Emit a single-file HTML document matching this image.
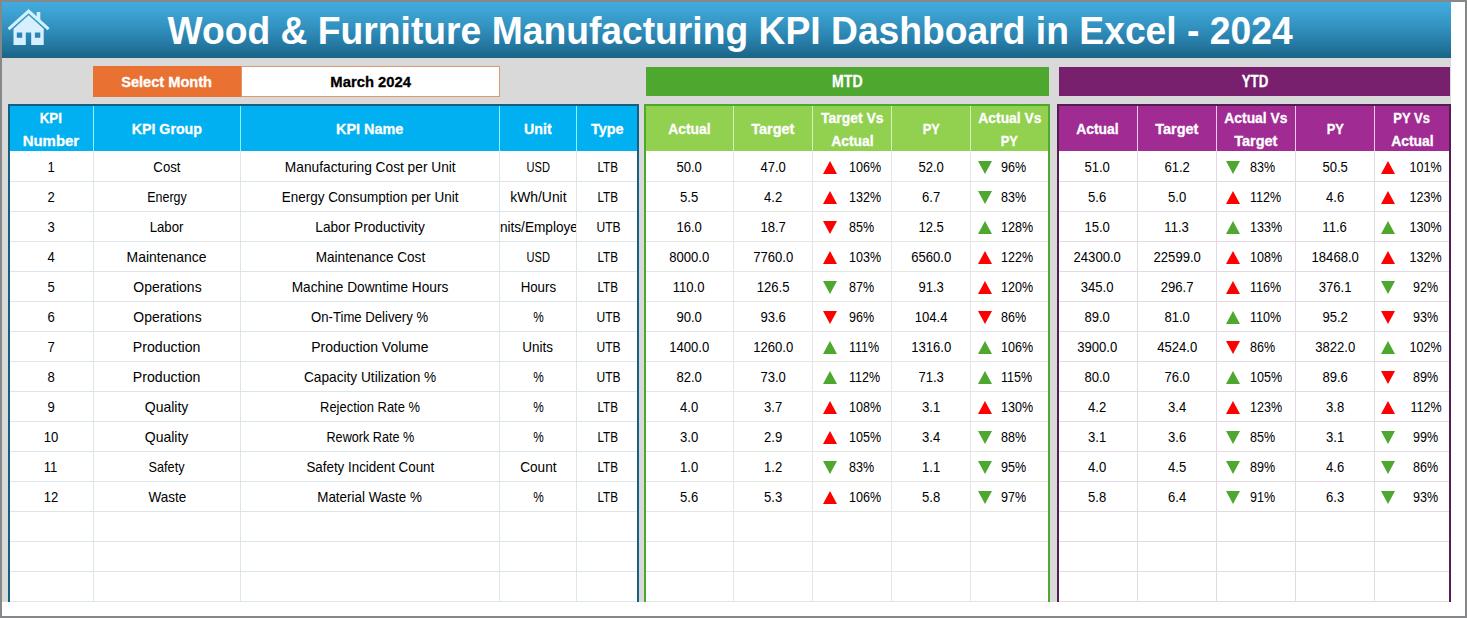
<!DOCTYPE html>
<html><head><meta charset="utf-8"><title>Wood &amp; Furniture Manufacturing KPI Dashboard</title>
<style>
html,body{margin:0;padding:0}
body{width:1467px;height:618px;position:relative;overflow:hidden;background:#fff;font-family:"Liberation Sans",sans-serif;color:#000}
div{position:absolute;box-sizing:border-box}
.frame{left:0;top:0;width:1467px;height:618px;border:2px solid #858789;border-top-width:2px}
.sheet{left:2px;top:2px;width:1449px;height:600px;background:#d9d9d9}
.banner{left:2px;top:2px;width:1449px;height:55.5px;background:linear-gradient(#43abdf 0%,#3ca3d2 18%,#3393c1 42%,#2a82ae 64%,#21729a 84%,#1b668a 96%,#1f6482 100%)}
.title{left:0;top:3px;width:1467px;height:56px;line-height:56px;text-align:center;color:#fff;font-weight:bold;font-size:39px;white-space:nowrap}
.s{display:inline-block;white-space:nowrap}
.c{text-align:center;white-space:nowrap;font-size:14.5px;line-height:30px;height:30px;overflow:hidden}
.h{text-align:center;white-space:nowrap;font-size:15.3px;-webkit-text-stroke:0.3px;font-weight:bold;color:#fff;line-height:22px}
.vl{width:1px}
.hl{height:1px}
.tri{width:0;height:0;border-left:7px solid transparent;border-right:7px solid transparent}
.ur{border-bottom:13px solid #ff0000}
.ug{border-bottom:13px solid #4ea72e}
.dr{border-top:13px solid #ff0000}
.dg{border-top:13px solid #4ea72e}
</style></head><body>
<div class="sheet"></div>
<div class="banner"></div>
<svg style="position:absolute;left:6px;top:6px" width="48" height="44" viewBox="6 6 48 44"><g fill="#d6f0ff">
<path d="M28.6 9 L49.6 28 L47.6 30.2 L28.6 13.2 L9.6 30.2 L7.6 28 Z"/>
<rect x="36.7" y="12" width="3.6" height="8"/>
<path d="M28.6 15.2 L43.7 28.8 L43.7 45 L31.2 45 L31.2 32.4 L25.8 32.4 L25.8 45 L13.5 45 L13.5 28.8 Z M16.8 32.4 h5.4 v5.4 h-5.4 Z M34.9 32.4 h5.4 v5.4 h-5.4 Z" fill-rule="evenodd"/>
</g></svg>
<div class="title"><span class="s" style="transform:scaleX(0.955);position:relative;left:-3px">Wood &amp; Furniture Manufacturing KPI Dashboard in Excel - 2024</span></div>
<div style="left:93px;top:66px;width:148px;height:30.5px;background:#e97132"></div>
<div class="h" style="left:93px;top:66px;width:148px;height:31px;line-height:31px"><span class="s" style="transform:scaleX(0.955)">Select Month</span></div>
<div style="left:241px;top:66px;width:259px;height:30.5px;background:#fff;border:1px solid #dd9a6c"></div>
<div class="h" style="left:241px;top:66px;width:259px;height:31px;line-height:31px;color:#000"><span class="s" style="transform:scaleX(0.968)">March 2024</span></div>
<div style="left:646px;top:67px;width:403px;height:28.6px;background:#4ea72e"></div>
<div class="h" style="left:646px;top:66.5px;width:403px;height:29px;line-height:29px;font-size:16px"><span class="s" style="transform:scaleX(0.882)">MTD</span></div>
<div style="left:1059px;top:67px;width:391px;height:28.6px;background:#78206e"></div>
<div class="h" style="left:1059px;top:66.5px;width:391px;height:29px;line-height:29px;font-size:16px"><span class="s" style="transform:scaleX(0.828)">YTD</span></div>
<div style="left:8px;top:104px;width:631px;height:498px;background:#fff"></div>
<div style="left:8px;top:104px;width:631px;height:47px;background:#00b0f0"></div>
<div class="hl" style="left:10px;top:181px;width:627px;background:#dae6ea"></div>
<div class="hl" style="left:10px;top:211px;width:627px;background:#dae6ea"></div>
<div class="hl" style="left:10px;top:241px;width:627px;background:#dae6ea"></div>
<div class="hl" style="left:10px;top:271px;width:627px;background:#dae6ea"></div>
<div class="hl" style="left:10px;top:301px;width:627px;background:#dae6ea"></div>
<div class="hl" style="left:10px;top:331px;width:627px;background:#dae6ea"></div>
<div class="hl" style="left:10px;top:361px;width:627px;background:#dae6ea"></div>
<div class="hl" style="left:10px;top:391px;width:627px;background:#dae6ea"></div>
<div class="hl" style="left:10px;top:421px;width:627px;background:#dae6ea"></div>
<div class="hl" style="left:10px;top:451px;width:627px;background:#dae6ea"></div>
<div class="hl" style="left:10px;top:481px;width:627px;background:#dae6ea"></div>
<div class="hl" style="left:10px;top:511px;width:627px;background:#dae6ea"></div>
<div class="hl" style="left:10px;top:541px;width:627px;background:#dae6ea"></div>
<div class="hl" style="left:10px;top:571px;width:627px;background:#dae6ea"></div>
<div class="hl" style="left:10px;top:601px;width:627px;background:#dae6ea"></div>
<div class="vl" style="left:93px;top:151px;height:451px;background:#dae6ea"></div>
<div class="vl" style="left:93px;top:106px;height:45px;background:#8ef4ff"></div>
<div class="vl" style="left:240px;top:151px;height:451px;background:#dae6ea"></div>
<div class="vl" style="left:240px;top:106px;height:45px;background:#8ef4ff"></div>
<div class="vl" style="left:499px;top:151px;height:451px;background:#dae6ea"></div>
<div class="vl" style="left:499px;top:106px;height:45px;background:#8ef4ff"></div>
<div class="vl" style="left:576px;top:151px;height:451px;background:#dae6ea"></div>
<div class="vl" style="left:576px;top:106px;height:45px;background:#8ef4ff"></div>
<div style="left:8px;top:104px;width:631px;height:1.7px;background:#156082"></div>
<div style="left:8px;top:104px;width:2px;height:498px;background:#156082"></div>
<div style="left:637px;top:104px;width:2px;height:498px;background:#156082"></div>
<div class="h" style="left:9px;top:106.8px;width:84px;height:46px;line-height:22.8px"><span class="s" style="transform:scaleX(0.87)">KPI</span><br><span class="s" style="transform:scaleX(0.977)">Number</span></div>
<div class="h" style="left:94px;top:105.5px;width:146px;height:45px;line-height:45px"><span class="s" style="transform:scaleX(0.929)">KPI Group</span></div>
<div class="h" style="left:241px;top:105.5px;width:258px;height:45px;line-height:45px"><span class="s" style="transform:scaleX(0.941)">KPI Name</span></div>
<div class="h" style="left:500px;top:105.5px;width:76px;height:45px;line-height:45px"><span class="s" style="transform:scaleX(0.931)">Unit</span></div>
<div class="h" style="left:577px;top:105.5px;width:60px;height:45px;line-height:45px"><span class="s" style="transform:scaleX(0.945)">Type</span></div>
<div style="left:644px;top:104px;width:406px;height:498px;background:#fff"></div>
<div style="left:644px;top:104px;width:406px;height:47px;background:#92d050"></div>
<div class="hl" style="left:646px;top:181px;width:402px;background:#e2e8df"></div>
<div class="hl" style="left:646px;top:211px;width:402px;background:#e2e8df"></div>
<div class="hl" style="left:646px;top:241px;width:402px;background:#e2e8df"></div>
<div class="hl" style="left:646px;top:271px;width:402px;background:#e2e8df"></div>
<div class="hl" style="left:646px;top:301px;width:402px;background:#e2e8df"></div>
<div class="hl" style="left:646px;top:331px;width:402px;background:#e2e8df"></div>
<div class="hl" style="left:646px;top:361px;width:402px;background:#e2e8df"></div>
<div class="hl" style="left:646px;top:391px;width:402px;background:#e2e8df"></div>
<div class="hl" style="left:646px;top:421px;width:402px;background:#e2e8df"></div>
<div class="hl" style="left:646px;top:451px;width:402px;background:#e2e8df"></div>
<div class="hl" style="left:646px;top:481px;width:402px;background:#e2e8df"></div>
<div class="hl" style="left:646px;top:511px;width:402px;background:#e2e8df"></div>
<div class="hl" style="left:646px;top:541px;width:402px;background:#e2e8df"></div>
<div class="hl" style="left:646px;top:571px;width:402px;background:#e2e8df"></div>
<div class="hl" style="left:646px;top:601px;width:402px;background:#e2e8df"></div>
<div class="vl" style="left:733px;top:151px;height:451px;background:#e2e8df"></div>
<div class="vl" style="left:733px;top:106px;height:45px;background:#d9f2b8"></div>
<div class="vl" style="left:812px;top:151px;height:451px;background:#e2e8df"></div>
<div class="vl" style="left:812px;top:106px;height:45px;background:#d9f2b8"></div>
<div class="vl" style="left:891px;top:151px;height:451px;background:#e2e8df"></div>
<div class="vl" style="left:891px;top:106px;height:45px;background:#d9f2b8"></div>
<div class="vl" style="left:970px;top:151px;height:451px;background:#e2e8df"></div>
<div class="vl" style="left:970px;top:106px;height:45px;background:#d9f2b8"></div>
<div style="left:644px;top:104px;width:406px;height:1.7px;background:#4ea72e"></div>
<div style="left:644px;top:104px;width:2px;height:498px;background:#4ea72e"></div>
<div style="left:1048px;top:104px;width:2px;height:498px;background:#4ea72e"></div>
<div class="h" style="left:645px;top:105.5px;width:88px;height:45px;line-height:45px"><span class="s" style="transform:scaleX(0.907)">Actual</span></div>
<div class="h" style="left:734px;top:105.5px;width:78px;height:45px;line-height:45px"><span class="s" style="transform:scaleX(0.949)">Target</span></div>
<div class="h" style="left:813px;top:106.8px;width:78px;height:46px;line-height:22.8px"><span class="s" style="transform:scaleX(0.912)">Target Vs</span><br><span class="s" style="transform:scaleX(0.907)">Actual</span></div>
<div class="h" style="left:892px;top:105.5px;width:78px;height:45px;line-height:45px"><span class="s" style="transform:scaleX(0.84)">PY</span></div>
<div class="h" style="left:971px;top:106.8px;width:77px;height:46px;line-height:22.8px"><span class="s" style="transform:scaleX(0.904)">Actual Vs</span><br><span class="s" style="transform:scaleX(0.84)">PY</span></div>
<div style="left:1057px;top:104px;width:394px;height:498px;background:#fff"></div>
<div style="left:1057px;top:104px;width:394px;height:47px;background:#a02b93"></div>
<div class="hl" style="left:1059px;top:181px;width:390px;background:#e3dae5"></div>
<div class="hl" style="left:1059px;top:211px;width:390px;background:#e3dae5"></div>
<div class="hl" style="left:1059px;top:241px;width:390px;background:#e3dae5"></div>
<div class="hl" style="left:1059px;top:271px;width:390px;background:#e3dae5"></div>
<div class="hl" style="left:1059px;top:301px;width:390px;background:#e3dae5"></div>
<div class="hl" style="left:1059px;top:331px;width:390px;background:#e3dae5"></div>
<div class="hl" style="left:1059px;top:361px;width:390px;background:#e3dae5"></div>
<div class="hl" style="left:1059px;top:391px;width:390px;background:#e3dae5"></div>
<div class="hl" style="left:1059px;top:421px;width:390px;background:#e3dae5"></div>
<div class="hl" style="left:1059px;top:451px;width:390px;background:#e3dae5"></div>
<div class="hl" style="left:1059px;top:481px;width:390px;background:#e3dae5"></div>
<div class="hl" style="left:1059px;top:511px;width:390px;background:#e3dae5"></div>
<div class="hl" style="left:1059px;top:541px;width:390px;background:#e3dae5"></div>
<div class="hl" style="left:1059px;top:571px;width:390px;background:#e3dae5"></div>
<div class="hl" style="left:1059px;top:601px;width:390px;background:#e3dae5"></div>
<div class="vl" style="left:1137px;top:151px;height:451px;background:#e3dae5"></div>
<div class="vl" style="left:1137px;top:106px;height:45px;background:#f0c8ea"></div>
<div class="vl" style="left:1216px;top:151px;height:451px;background:#e3dae5"></div>
<div class="vl" style="left:1216px;top:106px;height:45px;background:#f0c8ea"></div>
<div class="vl" style="left:1295px;top:151px;height:451px;background:#e3dae5"></div>
<div class="vl" style="left:1295px;top:106px;height:45px;background:#f0c8ea"></div>
<div class="vl" style="left:1374px;top:151px;height:451px;background:#e3dae5"></div>
<div class="vl" style="left:1374px;top:106px;height:45px;background:#f0c8ea"></div>
<div style="left:1057px;top:104px;width:394px;height:1.7px;background:#561c54"></div>
<div style="left:1057px;top:104px;width:2px;height:498px;background:#561c54"></div>
<div style="left:1449px;top:104px;width:2px;height:498px;background:#561c54"></div>
<div class="h" style="left:1058px;top:105.5px;width:79px;height:45px;line-height:45px"><span class="s" style="transform:scaleX(0.907)">Actual</span></div>
<div class="h" style="left:1138px;top:105.5px;width:78px;height:45px;line-height:45px"><span class="s" style="transform:scaleX(0.949)">Target</span></div>
<div class="h" style="left:1217px;top:106.8px;width:78px;height:46px;line-height:22.8px"><span class="s" style="transform:scaleX(0.904)">Actual Vs</span><br><span class="s" style="transform:scaleX(0.949)">Target</span></div>
<div class="h" style="left:1296px;top:105.5px;width:78px;height:45px;line-height:45px"><span class="s" style="transform:scaleX(0.84)">PY</span></div>
<div class="h" style="left:1375px;top:106.8px;width:74px;height:46px;line-height:22.8px"><span class="s" style="transform:scaleX(0.851)">PY Vs</span><br><span class="s" style="transform:scaleX(0.907)">Actual</span></div>
<div class="c" style="left:9px;top:152px;width:84px"><span class="s" style="transform:scaleX(0.902)">1</span></div>
<div class="c" style="left:94px;top:152px;width:146px"><span class="s" style="transform:scaleX(0.909)">Cost</span></div>
<div class="c" style="left:241px;top:152px;width:258px"><span class="s" style="transform:scaleX(0.946)">Manufacturing Cost per Unit</span></div>
<div class="c" style="left:500px;top:152px;width:76px"><span class="s" style="transform:scaleX(0.765)">USD</span></div>
<div class="c" style="left:577px;top:152px;width:62px"><span class="s" style="transform:scaleX(0.804)">LTB</span></div>
<div class="c" style="left:645px;top:152px;width:88px"><span class="s" style="transform:scaleX(0.902)">50.0</span></div>
<div class="c" style="left:734px;top:152px;width:78px"><span class="s" style="transform:scaleX(0.902)">47.0</span></div>
<div class="tri ur" style="left:823px;top:160.6px"></div><div class="c" style="left:848.8px;top:152px;width:60px;text-align:left"><span class="s" style="transform:scaleX(0.865);transform-origin:0 50%">106%</span></div>
<div class="c" style="left:892px;top:152px;width:78px"><span class="s" style="transform:scaleX(0.902)">52.0</span></div>
<div class="tri dg" style="left:978px;top:160.6px"></div><div class="c" style="left:1001.0px;top:152px;width:60px;text-align:left"><span class="s" style="transform:scaleX(0.865);transform-origin:0 50%">96%</span></div>
<div class="c" style="left:1058px;top:152px;width:79px"><span class="s" style="transform:scaleX(0.902)">51.0</span></div>
<div class="c" style="left:1138px;top:152px;width:78px"><span class="s" style="transform:scaleX(0.902)">61.2</span></div>
<div class="tri dg" style="left:1226px;top:160.6px"></div><div class="c" style="left:1249.8px;top:152px;width:60px;text-align:left"><span class="s" style="transform:scaleX(0.865);transform-origin:0 50%">83%</span></div>
<div class="c" style="left:1296px;top:152px;width:78px"><span class="s" style="transform:scaleX(0.902)">50.5</span></div>
<div class="tri ur" style="left:1381px;top:160.6px"></div><div class="c" style="left:1385.6px;top:152px;width:80px"><span class="s" style="transform:scaleX(0.865)">101%</span></div>
<div class="c" style="left:9px;top:182px;width:84px"><span class="s" style="transform:scaleX(0.902)">2</span></div>
<div class="c" style="left:94px;top:182px;width:146px"><span class="s" style="transform:scaleX(0.857)">Energy</span></div>
<div class="c" style="left:241px;top:182px;width:258px"><span class="s" style="transform:scaleX(0.93)">Energy Consumption per Unit</span></div>
<div class="c" style="left:500px;top:182px;width:76px"><span class="s" style="transform:scaleX(0.957)">kWh/Unit</span></div>
<div class="c" style="left:577px;top:182px;width:62px"><span class="s" style="transform:scaleX(0.804)">LTB</span></div>
<div class="c" style="left:645px;top:182px;width:88px"><span class="s" style="transform:scaleX(0.902)">5.5</span></div>
<div class="c" style="left:734px;top:182px;width:78px"><span class="s" style="transform:scaleX(0.902)">4.2</span></div>
<div class="tri ur" style="left:823px;top:190.6px"></div><div class="c" style="left:848.8px;top:182px;width:60px;text-align:left"><span class="s" style="transform:scaleX(0.865);transform-origin:0 50%">132%</span></div>
<div class="c" style="left:892px;top:182px;width:78px"><span class="s" style="transform:scaleX(0.902)">6.7</span></div>
<div class="tri dg" style="left:978px;top:190.6px"></div><div class="c" style="left:1001.0px;top:182px;width:60px;text-align:left"><span class="s" style="transform:scaleX(0.865);transform-origin:0 50%">83%</span></div>
<div class="c" style="left:1058px;top:182px;width:79px"><span class="s" style="transform:scaleX(0.902)">5.6</span></div>
<div class="c" style="left:1138px;top:182px;width:78px"><span class="s" style="transform:scaleX(0.902)">5.0</span></div>
<div class="tri ur" style="left:1226px;top:190.6px"></div><div class="c" style="left:1249.8px;top:182px;width:60px;text-align:left"><span class="s" style="transform:scaleX(0.865);transform-origin:0 50%">112%</span></div>
<div class="c" style="left:1296px;top:182px;width:78px"><span class="s" style="transform:scaleX(0.902)">4.6</span></div>
<div class="tri ur" style="left:1381px;top:190.6px"></div><div class="c" style="left:1385.6px;top:182px;width:80px"><span class="s" style="transform:scaleX(0.865)">123%</span></div>
<div class="c" style="left:9px;top:212px;width:84px"><span class="s" style="transform:scaleX(0.902)">3</span></div>
<div class="c" style="left:94px;top:212px;width:146px"><span class="s" style="transform:scaleX(0.911)">Labor</span></div>
<div class="c" style="left:241px;top:212px;width:258px"><span class="s" style="transform:scaleX(0.943)">Labor Productivity</span></div>
<div style="left:500px;top:212px;width:76px;height:30px;overflow:hidden"><div class="c" style="left:-50px;top:0;width:176px"><span class="s" style="transform:scaleX(0.94)">Units/Employee</span></div></div>
<div class="c" style="left:577px;top:212px;width:62px"><span class="s" style="transform:scaleX(0.834)">UTB</span></div>
<div class="c" style="left:645px;top:212px;width:88px"><span class="s" style="transform:scaleX(0.902)">16.0</span></div>
<div class="c" style="left:734px;top:212px;width:78px"><span class="s" style="transform:scaleX(0.902)">18.7</span></div>
<div class="tri dr" style="left:823px;top:220.6px"></div><div class="c" style="left:848.8px;top:212px;width:60px;text-align:left"><span class="s" style="transform:scaleX(0.865);transform-origin:0 50%">85%</span></div>
<div class="c" style="left:892px;top:212px;width:78px"><span class="s" style="transform:scaleX(0.902)">12.5</span></div>
<div class="tri ug" style="left:978px;top:220.6px"></div><div class="c" style="left:1001.0px;top:212px;width:60px;text-align:left"><span class="s" style="transform:scaleX(0.865);transform-origin:0 50%">128%</span></div>
<div class="c" style="left:1058px;top:212px;width:79px"><span class="s" style="transform:scaleX(0.902)">15.0</span></div>
<div class="c" style="left:1138px;top:212px;width:78px"><span class="s" style="transform:scaleX(0.902)">11.3</span></div>
<div class="tri ug" style="left:1226px;top:220.6px"></div><div class="c" style="left:1249.8px;top:212px;width:60px;text-align:left"><span class="s" style="transform:scaleX(0.865);transform-origin:0 50%">133%</span></div>
<div class="c" style="left:1296px;top:212px;width:78px"><span class="s" style="transform:scaleX(0.902)">11.6</span></div>
<div class="tri ug" style="left:1381px;top:220.6px"></div><div class="c" style="left:1385.6px;top:212px;width:80px"><span class="s" style="transform:scaleX(0.865)">130%</span></div>
<div class="c" style="left:9px;top:242px;width:84px"><span class="s" style="transform:scaleX(0.902)">4</span></div>
<div class="c" style="left:94px;top:242px;width:146px"><span class="s" style="transform:scaleX(0.963)">Maintenance</span></div>
<div class="c" style="left:241px;top:242px;width:258px"><span class="s" style="transform:scaleX(0.937)">Maintenance Cost</span></div>
<div class="c" style="left:500px;top:242px;width:76px"><span class="s" style="transform:scaleX(0.765)">USD</span></div>
<div class="c" style="left:577px;top:242px;width:62px"><span class="s" style="transform:scaleX(0.804)">LTB</span></div>
<div class="c" style="left:645px;top:242px;width:88px"><span class="s" style="transform:scaleX(0.902)">8000.0</span></div>
<div class="c" style="left:734px;top:242px;width:78px"><span class="s" style="transform:scaleX(0.902)">7760.0</span></div>
<div class="tri ur" style="left:823px;top:250.6px"></div><div class="c" style="left:848.8px;top:242px;width:60px;text-align:left"><span class="s" style="transform:scaleX(0.865);transform-origin:0 50%">103%</span></div>
<div class="c" style="left:892px;top:242px;width:78px"><span class="s" style="transform:scaleX(0.902)">6560.0</span></div>
<div class="tri ur" style="left:978px;top:250.6px"></div><div class="c" style="left:1001.0px;top:242px;width:60px;text-align:left"><span class="s" style="transform:scaleX(0.865);transform-origin:0 50%">122%</span></div>
<div class="c" style="left:1058px;top:242px;width:79px"><span class="s" style="transform:scaleX(0.902)">24300.0</span></div>
<div class="c" style="left:1138px;top:242px;width:78px"><span class="s" style="transform:scaleX(0.902)">22599.0</span></div>
<div class="tri ur" style="left:1226px;top:250.6px"></div><div class="c" style="left:1249.8px;top:242px;width:60px;text-align:left"><span class="s" style="transform:scaleX(0.865);transform-origin:0 50%">108%</span></div>
<div class="c" style="left:1296px;top:242px;width:78px"><span class="s" style="transform:scaleX(0.902)">18468.0</span></div>
<div class="tri ur" style="left:1381px;top:250.6px"></div><div class="c" style="left:1385.6px;top:242px;width:80px"><span class="s" style="transform:scaleX(0.865)">132%</span></div>
<div class="c" style="left:9px;top:272px;width:84px"><span class="s" style="transform:scaleX(0.902)">5</span></div>
<div class="c" style="left:94px;top:272px;width:146px"><span class="s" style="transform:scaleX(0.963)">Operations</span></div>
<div class="c" style="left:241px;top:272px;width:258px"><span class="s" style="transform:scaleX(0.943)">Machine Downtime Hours</span></div>
<div class="c" style="left:500px;top:272px;width:76px"><span class="s" style="transform:scaleX(0.915)">Hours</span></div>
<div class="c" style="left:577px;top:272px;width:62px"><span class="s" style="transform:scaleX(0.804)">LTB</span></div>
<div class="c" style="left:645px;top:272px;width:88px"><span class="s" style="transform:scaleX(0.902)">110.0</span></div>
<div class="c" style="left:734px;top:272px;width:78px"><span class="s" style="transform:scaleX(0.902)">126.5</span></div>
<div class="tri dg" style="left:823px;top:280.6px"></div><div class="c" style="left:848.8px;top:272px;width:60px;text-align:left"><span class="s" style="transform:scaleX(0.865);transform-origin:0 50%">87%</span></div>
<div class="c" style="left:892px;top:272px;width:78px"><span class="s" style="transform:scaleX(0.902)">91.3</span></div>
<div class="tri ur" style="left:978px;top:280.6px"></div><div class="c" style="left:1001.0px;top:272px;width:60px;text-align:left"><span class="s" style="transform:scaleX(0.865);transform-origin:0 50%">120%</span></div>
<div class="c" style="left:1058px;top:272px;width:79px"><span class="s" style="transform:scaleX(0.902)">345.0</span></div>
<div class="c" style="left:1138px;top:272px;width:78px"><span class="s" style="transform:scaleX(0.902)">296.7</span></div>
<div class="tri ur" style="left:1226px;top:280.6px"></div><div class="c" style="left:1249.8px;top:272px;width:60px;text-align:left"><span class="s" style="transform:scaleX(0.865);transform-origin:0 50%">116%</span></div>
<div class="c" style="left:1296px;top:272px;width:78px"><span class="s" style="transform:scaleX(0.902)">376.1</span></div>
<div class="tri dg" style="left:1381px;top:280.6px"></div><div class="c" style="left:1385.6px;top:272px;width:80px"><span class="s" style="transform:scaleX(0.865)">92%</span></div>
<div class="c" style="left:9px;top:302px;width:84px"><span class="s" style="transform:scaleX(0.902)">6</span></div>
<div class="c" style="left:94px;top:302px;width:146px"><span class="s" style="transform:scaleX(0.963)">Operations</span></div>
<div class="c" style="left:241px;top:302px;width:258px"><span class="s" style="transform:scaleX(0.906)">On-Time Delivery %</span></div>
<div class="c" style="left:500px;top:302px;width:76px"><span class="s" style="transform:scaleX(0.814)">%</span></div>
<div class="c" style="left:577px;top:302px;width:62px"><span class="s" style="transform:scaleX(0.834)">UTB</span></div>
<div class="c" style="left:645px;top:302px;width:88px"><span class="s" style="transform:scaleX(0.902)">90.0</span></div>
<div class="c" style="left:734px;top:302px;width:78px"><span class="s" style="transform:scaleX(0.902)">93.6</span></div>
<div class="tri dr" style="left:823px;top:310.6px"></div><div class="c" style="left:848.8px;top:302px;width:60px;text-align:left"><span class="s" style="transform:scaleX(0.865);transform-origin:0 50%">96%</span></div>
<div class="c" style="left:892px;top:302px;width:78px"><span class="s" style="transform:scaleX(0.902)">104.4</span></div>
<div class="tri dr" style="left:978px;top:310.6px"></div><div class="c" style="left:1001.0px;top:302px;width:60px;text-align:left"><span class="s" style="transform:scaleX(0.865);transform-origin:0 50%">86%</span></div>
<div class="c" style="left:1058px;top:302px;width:79px"><span class="s" style="transform:scaleX(0.902)">89.0</span></div>
<div class="c" style="left:1138px;top:302px;width:78px"><span class="s" style="transform:scaleX(0.902)">81.0</span></div>
<div class="tri ug" style="left:1226px;top:310.6px"></div><div class="c" style="left:1249.8px;top:302px;width:60px;text-align:left"><span class="s" style="transform:scaleX(0.865);transform-origin:0 50%">110%</span></div>
<div class="c" style="left:1296px;top:302px;width:78px"><span class="s" style="transform:scaleX(0.902)">95.2</span></div>
<div class="tri dr" style="left:1381px;top:310.6px"></div><div class="c" style="left:1385.6px;top:302px;width:80px"><span class="s" style="transform:scaleX(0.865)">93%</span></div>
<div class="c" style="left:9px;top:332px;width:84px"><span class="s" style="transform:scaleX(0.902)">7</span></div>
<div class="c" style="left:94px;top:332px;width:146px"><span class="s" style="transform:scaleX(0.975)">Production</span></div>
<div class="c" style="left:241px;top:332px;width:258px"><span class="s" style="transform:scaleX(0.962)">Production Volume</span></div>
<div class="c" style="left:500px;top:332px;width:76px"><span class="s" style="transform:scaleX(0.93)">Units</span></div>
<div class="c" style="left:577px;top:332px;width:62px"><span class="s" style="transform:scaleX(0.834)">UTB</span></div>
<div class="c" style="left:645px;top:332px;width:88px"><span class="s" style="transform:scaleX(0.902)">1400.0</span></div>
<div class="c" style="left:734px;top:332px;width:78px"><span class="s" style="transform:scaleX(0.902)">1260.0</span></div>
<div class="tri ug" style="left:823px;top:340.6px"></div><div class="c" style="left:848.8px;top:332px;width:60px;text-align:left"><span class="s" style="transform:scaleX(0.865);transform-origin:0 50%">111%</span></div>
<div class="c" style="left:892px;top:332px;width:78px"><span class="s" style="transform:scaleX(0.902)">1316.0</span></div>
<div class="tri ug" style="left:978px;top:340.6px"></div><div class="c" style="left:1001.0px;top:332px;width:60px;text-align:left"><span class="s" style="transform:scaleX(0.865);transform-origin:0 50%">106%</span></div>
<div class="c" style="left:1058px;top:332px;width:79px"><span class="s" style="transform:scaleX(0.902)">3900.0</span></div>
<div class="c" style="left:1138px;top:332px;width:78px"><span class="s" style="transform:scaleX(0.902)">4524.0</span></div>
<div class="tri dr" style="left:1226px;top:340.6px"></div><div class="c" style="left:1249.8px;top:332px;width:60px;text-align:left"><span class="s" style="transform:scaleX(0.865);transform-origin:0 50%">86%</span></div>
<div class="c" style="left:1296px;top:332px;width:78px"><span class="s" style="transform:scaleX(0.902)">3822.0</span></div>
<div class="tri ug" style="left:1381px;top:340.6px"></div><div class="c" style="left:1385.6px;top:332px;width:80px"><span class="s" style="transform:scaleX(0.865)">102%</span></div>
<div class="c" style="left:9px;top:362px;width:84px"><span class="s" style="transform:scaleX(0.902)">8</span></div>
<div class="c" style="left:94px;top:362px;width:146px"><span class="s" style="transform:scaleX(0.975)">Production</span></div>
<div class="c" style="left:241px;top:362px;width:258px"><span class="s" style="transform:scaleX(0.943)">Capacity Utilization %</span></div>
<div class="c" style="left:500px;top:362px;width:76px"><span class="s" style="transform:scaleX(0.814)">%</span></div>
<div class="c" style="left:577px;top:362px;width:62px"><span class="s" style="transform:scaleX(0.834)">UTB</span></div>
<div class="c" style="left:645px;top:362px;width:88px"><span class="s" style="transform:scaleX(0.902)">82.0</span></div>
<div class="c" style="left:734px;top:362px;width:78px"><span class="s" style="transform:scaleX(0.902)">73.0</span></div>
<div class="tri ug" style="left:823px;top:370.6px"></div><div class="c" style="left:848.8px;top:362px;width:60px;text-align:left"><span class="s" style="transform:scaleX(0.865);transform-origin:0 50%">112%</span></div>
<div class="c" style="left:892px;top:362px;width:78px"><span class="s" style="transform:scaleX(0.902)">71.3</span></div>
<div class="tri ug" style="left:978px;top:370.6px"></div><div class="c" style="left:1001.0px;top:362px;width:60px;text-align:left"><span class="s" style="transform:scaleX(0.865);transform-origin:0 50%">115%</span></div>
<div class="c" style="left:1058px;top:362px;width:79px"><span class="s" style="transform:scaleX(0.902)">80.0</span></div>
<div class="c" style="left:1138px;top:362px;width:78px"><span class="s" style="transform:scaleX(0.902)">76.0</span></div>
<div class="tri ug" style="left:1226px;top:370.6px"></div><div class="c" style="left:1249.8px;top:362px;width:60px;text-align:left"><span class="s" style="transform:scaleX(0.865);transform-origin:0 50%">105%</span></div>
<div class="c" style="left:1296px;top:362px;width:78px"><span class="s" style="transform:scaleX(0.902)">89.6</span></div>
<div class="tri dr" style="left:1381px;top:370.6px"></div><div class="c" style="left:1385.6px;top:362px;width:80px"><span class="s" style="transform:scaleX(0.865)">89%</span></div>
<div class="c" style="left:9px;top:392px;width:84px"><span class="s" style="transform:scaleX(0.902)">9</span></div>
<div class="c" style="left:94px;top:392px;width:146px"><span class="s" style="transform:scaleX(0.967)">Quality</span></div>
<div class="c" style="left:241px;top:392px;width:258px"><span class="s" style="transform:scaleX(0.891)">Rejection Rate %</span></div>
<div class="c" style="left:500px;top:392px;width:76px"><span class="s" style="transform:scaleX(0.814)">%</span></div>
<div class="c" style="left:577px;top:392px;width:62px"><span class="s" style="transform:scaleX(0.804)">LTB</span></div>
<div class="c" style="left:645px;top:392px;width:88px"><span class="s" style="transform:scaleX(0.902)">4.0</span></div>
<div class="c" style="left:734px;top:392px;width:78px"><span class="s" style="transform:scaleX(0.902)">3.7</span></div>
<div class="tri ur" style="left:823px;top:400.6px"></div><div class="c" style="left:848.8px;top:392px;width:60px;text-align:left"><span class="s" style="transform:scaleX(0.865);transform-origin:0 50%">108%</span></div>
<div class="c" style="left:892px;top:392px;width:78px"><span class="s" style="transform:scaleX(0.902)">3.1</span></div>
<div class="tri ur" style="left:978px;top:400.6px"></div><div class="c" style="left:1001.0px;top:392px;width:60px;text-align:left"><span class="s" style="transform:scaleX(0.865);transform-origin:0 50%">130%</span></div>
<div class="c" style="left:1058px;top:392px;width:79px"><span class="s" style="transform:scaleX(0.902)">4.2</span></div>
<div class="c" style="left:1138px;top:392px;width:78px"><span class="s" style="transform:scaleX(0.902)">3.4</span></div>
<div class="tri ur" style="left:1226px;top:400.6px"></div><div class="c" style="left:1249.8px;top:392px;width:60px;text-align:left"><span class="s" style="transform:scaleX(0.865);transform-origin:0 50%">123%</span></div>
<div class="c" style="left:1296px;top:392px;width:78px"><span class="s" style="transform:scaleX(0.902)">3.8</span></div>
<div class="tri ur" style="left:1381px;top:400.6px"></div><div class="c" style="left:1385.6px;top:392px;width:80px"><span class="s" style="transform:scaleX(0.865)">112%</span></div>
<div class="c" style="left:9px;top:422px;width:84px"><span class="s" style="transform:scaleX(0.902)">10</span></div>
<div class="c" style="left:94px;top:422px;width:146px"><span class="s" style="transform:scaleX(0.967)">Quality</span></div>
<div class="c" style="left:241px;top:422px;width:258px"><span class="s" style="transform:scaleX(0.871)">Rework Rate %</span></div>
<div class="c" style="left:500px;top:422px;width:76px"><span class="s" style="transform:scaleX(0.814)">%</span></div>
<div class="c" style="left:577px;top:422px;width:62px"><span class="s" style="transform:scaleX(0.804)">LTB</span></div>
<div class="c" style="left:645px;top:422px;width:88px"><span class="s" style="transform:scaleX(0.902)">3.0</span></div>
<div class="c" style="left:734px;top:422px;width:78px"><span class="s" style="transform:scaleX(0.902)">2.9</span></div>
<div class="tri ur" style="left:823px;top:430.6px"></div><div class="c" style="left:848.8px;top:422px;width:60px;text-align:left"><span class="s" style="transform:scaleX(0.865);transform-origin:0 50%">105%</span></div>
<div class="c" style="left:892px;top:422px;width:78px"><span class="s" style="transform:scaleX(0.902)">3.4</span></div>
<div class="tri dg" style="left:978px;top:430.6px"></div><div class="c" style="left:1001.0px;top:422px;width:60px;text-align:left"><span class="s" style="transform:scaleX(0.865);transform-origin:0 50%">88%</span></div>
<div class="c" style="left:1058px;top:422px;width:79px"><span class="s" style="transform:scaleX(0.902)">3.1</span></div>
<div class="c" style="left:1138px;top:422px;width:78px"><span class="s" style="transform:scaleX(0.902)">3.6</span></div>
<div class="tri dg" style="left:1226px;top:430.6px"></div><div class="c" style="left:1249.8px;top:422px;width:60px;text-align:left"><span class="s" style="transform:scaleX(0.865);transform-origin:0 50%">85%</span></div>
<div class="c" style="left:1296px;top:422px;width:78px"><span class="s" style="transform:scaleX(0.902)">3.1</span></div>
<div class="tri dg" style="left:1381px;top:430.6px"></div><div class="c" style="left:1385.6px;top:422px;width:80px"><span class="s" style="transform:scaleX(0.865)">99%</span></div>
<div class="c" style="left:9px;top:452px;width:84px"><span class="s" style="transform:scaleX(0.902)">11</span></div>
<div class="c" style="left:94px;top:452px;width:146px"><span class="s" style="transform:scaleX(0.874)">Safety</span></div>
<div class="c" style="left:241px;top:452px;width:258px"><span class="s" style="transform:scaleX(0.922)">Safety Incident Count</span></div>
<div class="c" style="left:500px;top:452px;width:76px"><span class="s" style="transform:scaleX(0.938)">Count</span></div>
<div class="c" style="left:577px;top:452px;width:62px"><span class="s" style="transform:scaleX(0.804)">LTB</span></div>
<div class="c" style="left:645px;top:452px;width:88px"><span class="s" style="transform:scaleX(0.902)">1.0</span></div>
<div class="c" style="left:734px;top:452px;width:78px"><span class="s" style="transform:scaleX(0.902)">1.2</span></div>
<div class="tri dg" style="left:823px;top:460.6px"></div><div class="c" style="left:848.8px;top:452px;width:60px;text-align:left"><span class="s" style="transform:scaleX(0.865);transform-origin:0 50%">83%</span></div>
<div class="c" style="left:892px;top:452px;width:78px"><span class="s" style="transform:scaleX(0.902)">1.1</span></div>
<div class="tri dg" style="left:978px;top:460.6px"></div><div class="c" style="left:1001.0px;top:452px;width:60px;text-align:left"><span class="s" style="transform:scaleX(0.865);transform-origin:0 50%">95%</span></div>
<div class="c" style="left:1058px;top:452px;width:79px"><span class="s" style="transform:scaleX(0.902)">4.0</span></div>
<div class="c" style="left:1138px;top:452px;width:78px"><span class="s" style="transform:scaleX(0.902)">4.5</span></div>
<div class="tri dg" style="left:1226px;top:460.6px"></div><div class="c" style="left:1249.8px;top:452px;width:60px;text-align:left"><span class="s" style="transform:scaleX(0.865);transform-origin:0 50%">89%</span></div>
<div class="c" style="left:1296px;top:452px;width:78px"><span class="s" style="transform:scaleX(0.902)">4.6</span></div>
<div class="tri dg" style="left:1381px;top:460.6px"></div><div class="c" style="left:1385.6px;top:452px;width:80px"><span class="s" style="transform:scaleX(0.865)">86%</span></div>
<div class="c" style="left:9px;top:482px;width:84px"><span class="s" style="transform:scaleX(0.902)">12</span></div>
<div class="c" style="left:94px;top:482px;width:146px"><span class="s" style="transform:scaleX(0.931)">Waste</span></div>
<div class="c" style="left:241px;top:482px;width:258px"><span class="s" style="transform:scaleX(0.925)">Material Waste %</span></div>
<div class="c" style="left:500px;top:482px;width:76px"><span class="s" style="transform:scaleX(0.814)">%</span></div>
<div class="c" style="left:577px;top:482px;width:62px"><span class="s" style="transform:scaleX(0.804)">LTB</span></div>
<div class="c" style="left:645px;top:482px;width:88px"><span class="s" style="transform:scaleX(0.902)">5.6</span></div>
<div class="c" style="left:734px;top:482px;width:78px"><span class="s" style="transform:scaleX(0.902)">5.3</span></div>
<div class="tri ur" style="left:823px;top:490.6px"></div><div class="c" style="left:848.8px;top:482px;width:60px;text-align:left"><span class="s" style="transform:scaleX(0.865);transform-origin:0 50%">106%</span></div>
<div class="c" style="left:892px;top:482px;width:78px"><span class="s" style="transform:scaleX(0.902)">5.8</span></div>
<div class="tri dg" style="left:978px;top:490.6px"></div><div class="c" style="left:1001.0px;top:482px;width:60px;text-align:left"><span class="s" style="transform:scaleX(0.865);transform-origin:0 50%">97%</span></div>
<div class="c" style="left:1058px;top:482px;width:79px"><span class="s" style="transform:scaleX(0.902)">5.8</span></div>
<div class="c" style="left:1138px;top:482px;width:78px"><span class="s" style="transform:scaleX(0.902)">6.4</span></div>
<div class="tri dg" style="left:1226px;top:490.6px"></div><div class="c" style="left:1249.8px;top:482px;width:60px;text-align:left"><span class="s" style="transform:scaleX(0.865);transform-origin:0 50%">91%</span></div>
<div class="c" style="left:1296px;top:482px;width:78px"><span class="s" style="transform:scaleX(0.902)">6.3</span></div>
<div class="tri dg" style="left:1381px;top:490.6px"></div><div class="c" style="left:1385.6px;top:482px;width:80px"><span class="s" style="transform:scaleX(0.865)">93%</span></div>
<div class="frame"></div>
</body></html>
